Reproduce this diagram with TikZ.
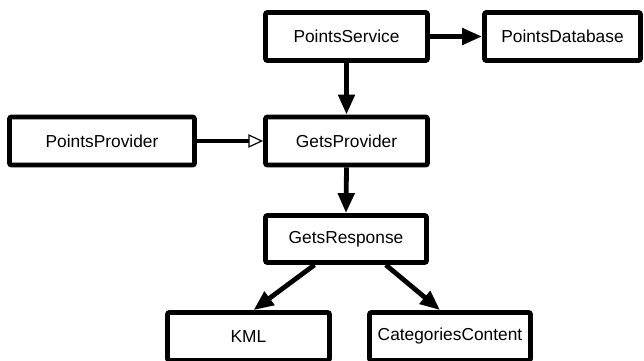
\documentclass[tikz,border=0pt]{standalone}
\usepackage{fontspec}
\setmainfont{Liberation Sans}
\usetikzlibrary{arrows.meta,calc}
\begin{document}
\begin{tikzpicture}[x=0.75pt,y=-0.75pt,
  box/.style={draw=black,line width=3.6pt,rounded corners=1.5pt,fill=white,
    inner sep=0pt,minimum height=36pt,font=\fontsize{13}{15}\selectfont},
  conn/.style={line width=3.6pt,-{Triangle[length=15pt,width=12pt]}},
  inher/.style={line width=3.6pt,-{Triangle[open,length=11pt,width=10pt,line width=0.9pt,fill=white]}}]
\fill[white] (0,0) rectangle (644,361);
\useasboundingbox (0,0) rectangle (644,361);
\node[box,minimum width=121.5pt] (ps) at (346.5,36.5) {PointsService};
\node[box,minimum width=117pt] (pd) at (562.5,36.5) {PointsDatabase};
\node[box,minimum width=138.75pt] (pp) at (102,141) {PointsProvider};
\node[box,minimum width=121.5pt] (gp) at (346.5,141) {GetsProvider};
\node[box,minimum width=120.75pt,minimum height=35.25pt] (gr) at (346,239) {GetsResponse};
\node[box,minimum width=121.5pt] (kml) at (248.5,336.5) {KML};
\node[box,minimum width=120.75pt] (cc) at (450,336.5) {CategoriesContent};
\draw[conn] (ps.east) -- (pd.west);
\draw[conn] (ps.south) -- (gp.north);
\draw[inher] (pp.east) -- (gp.west);
\draw[conn] (gp.south) -- (gr.north);
\draw[conn] ($(gr.south west)!0.31!(gr.south east)$) -- ($(kml.north west)!0.53!(kml.north east)$);
\draw[conn] ($(gr.south west)!0.74!(gr.south east)$) -- ($(cc.north west)!0.44!(cc.north east)$);
\end{tikzpicture}
\end{document}
